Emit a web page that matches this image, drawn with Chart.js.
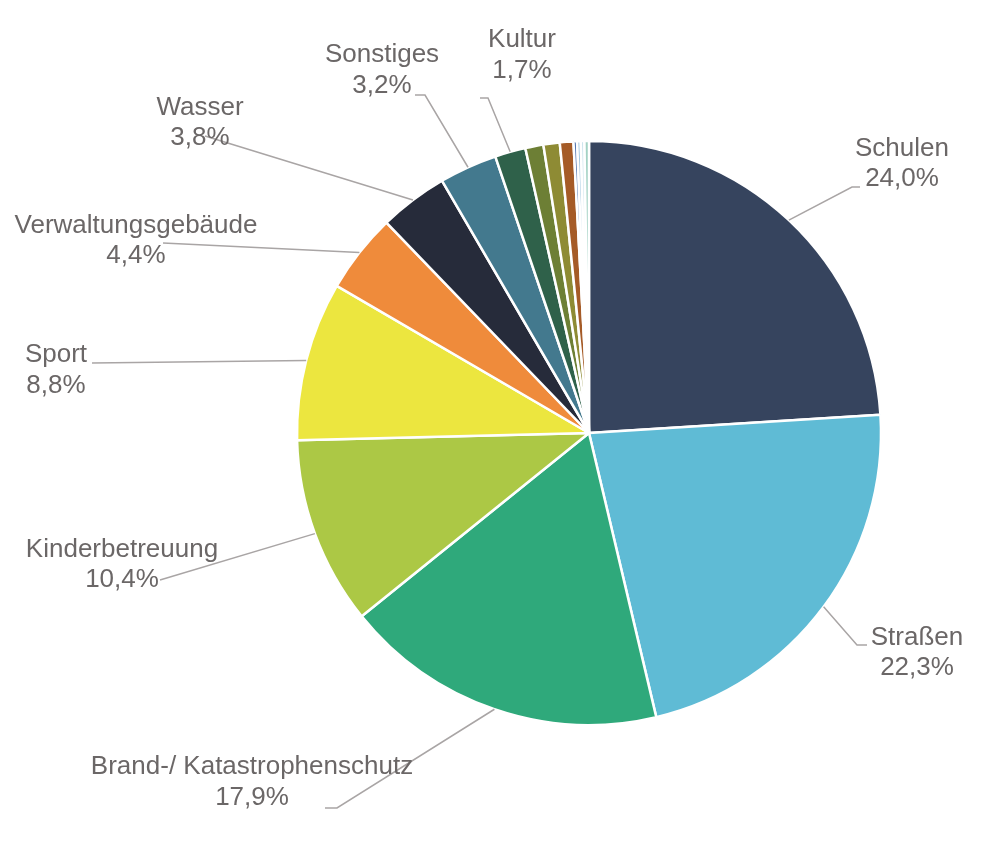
<!DOCTYPE html>
<html>
<head>
<meta charset="utf-8">
<script src="https://cdn.jsdelivr.net/npm/chart.js@4/dist/chart.umd.min.js"></script>
<style>
  body { margin: 0; background: #fff; }
  #wrap { width: 1000px; height: 845px; }
</style>
</head>
<body>
<div id="wrap"><canvas id="chart" width="1000" height="845"></canvas></div>
<script>
// Anteile der Investitionen nach Bereich (in %)
const categories = ['Schulen', 'Straßen', 'Brand-/ Katastrophenschutz', 'Kinderbetreuung', 'Sport',
    'Verwaltungsgebäude', 'Wasser', 'Sonstiges', 'Kultur', '', '', '', '', '', '', ''];
const shares = [24.0, 22.3, 17.9, 10.4, 8.8, 4.4, 3.8, 3.2, 1.7, 1.0, 0.9, 0.75, 0.2, 0.2, 0.2, 0.25];
const shareLabels = ['24,0%', '22,3%', '17,9%', '10,4%', '8,8%', '4,4%', '3,8%', '3,2%', '1,7%'];
const colors = ['#36445e', '#5fbbd5', '#2fa97b', '#acc845', '#ece63f', '#ef8b3b', '#262b3a', '#43798e',
    '#2f614a', '#6d7f35', '#8e8b34', '#a55b27', '#5578b0', '#9ec6df', '#c9e3ec', '#a3d2c4'];

// Lage der Beschriftungen: Knickpunkte der Führungslinie, Textmitte x, Grundlinien y
const labelLayout = [
    { pts: [[852, 187], [860, 187]], x: 902, y: [156, 186] },
    { pts: [[857, 645], [867, 645]], x: 917, y: [645, 675] },
    { pts: [[337, 808], [325, 808]], x: 252, y: [774, 805] },
    { pts: [[160, 580]], x: 122, y: [557, 587] },
    { pts: [[92, 363]], x: 56, y: [362, 393] },
    { pts: [[163, 243]], x: 136, y: [233, 263] },
    { pts: [[205, 136]], x: 200, y: [115, 145] },
    { pts: [[425, 95], [415, 95]], x: 382, y: [62, 93] },
    { pts: [[488, 98], [480, 98]], x: 522, y: [47, 78] }
];

const leaderLabels = {
    id: 'leaderLabels',
    afterDatasetsDraw(chart) {
        const ctx = chart.ctx;
        const meta = chart.getDatasetMeta(0);
        ctx.save();
        labelLayout.forEach((lay, i) => {
            const arc = meta.data[i];
            const mid = (arc.startAngle + arc.endAngle) / 2;
            const sx = arc.x + Math.cos(mid) * arc.outerRadius;
            const sy = arc.y + Math.sin(mid) * arc.outerRadius;
            ctx.strokeStyle = '#a9a5a5';
            ctx.lineWidth = 1.5;
            ctx.beginPath();
            ctx.moveTo(sx, sy);
            lay.pts.forEach(p => ctx.lineTo(p[0], p[1]));
            ctx.stroke();

            ctx.fillStyle = '#6b6767';
            ctx.font = '26px "Liberation Sans", Arial, sans-serif';
            ctx.textAlign = 'center';
            ctx.textBaseline = 'alphabetic';
            ctx.fillText(categories[i], lay.x, lay.y[0]);
            ctx.fillText(shareLabels[i], lay.x, lay.y[1]);
        });
        ctx.restore();
    }
};

new Chart(document.getElementById('chart'), {
    type: 'pie',
    data: {
        labels: categories,
        datasets: [{
            data: shares,
            backgroundColor: colors,
            borderColor: '#ffffff',
            borderWidth: 2.5
        }]
    },
    options: {
        responsive: false,
        animation: false,
        rotation: 0,
        radius: 292,
        layout: { padding: { left: 289, right: 111, top: 133, bottom: 112 } },
        plugins: {
            legend: { display: false },
            tooltip: { enabled: false }
        }
    },
    plugins: [leaderLabels]
});
</script>
</body>
</html>
